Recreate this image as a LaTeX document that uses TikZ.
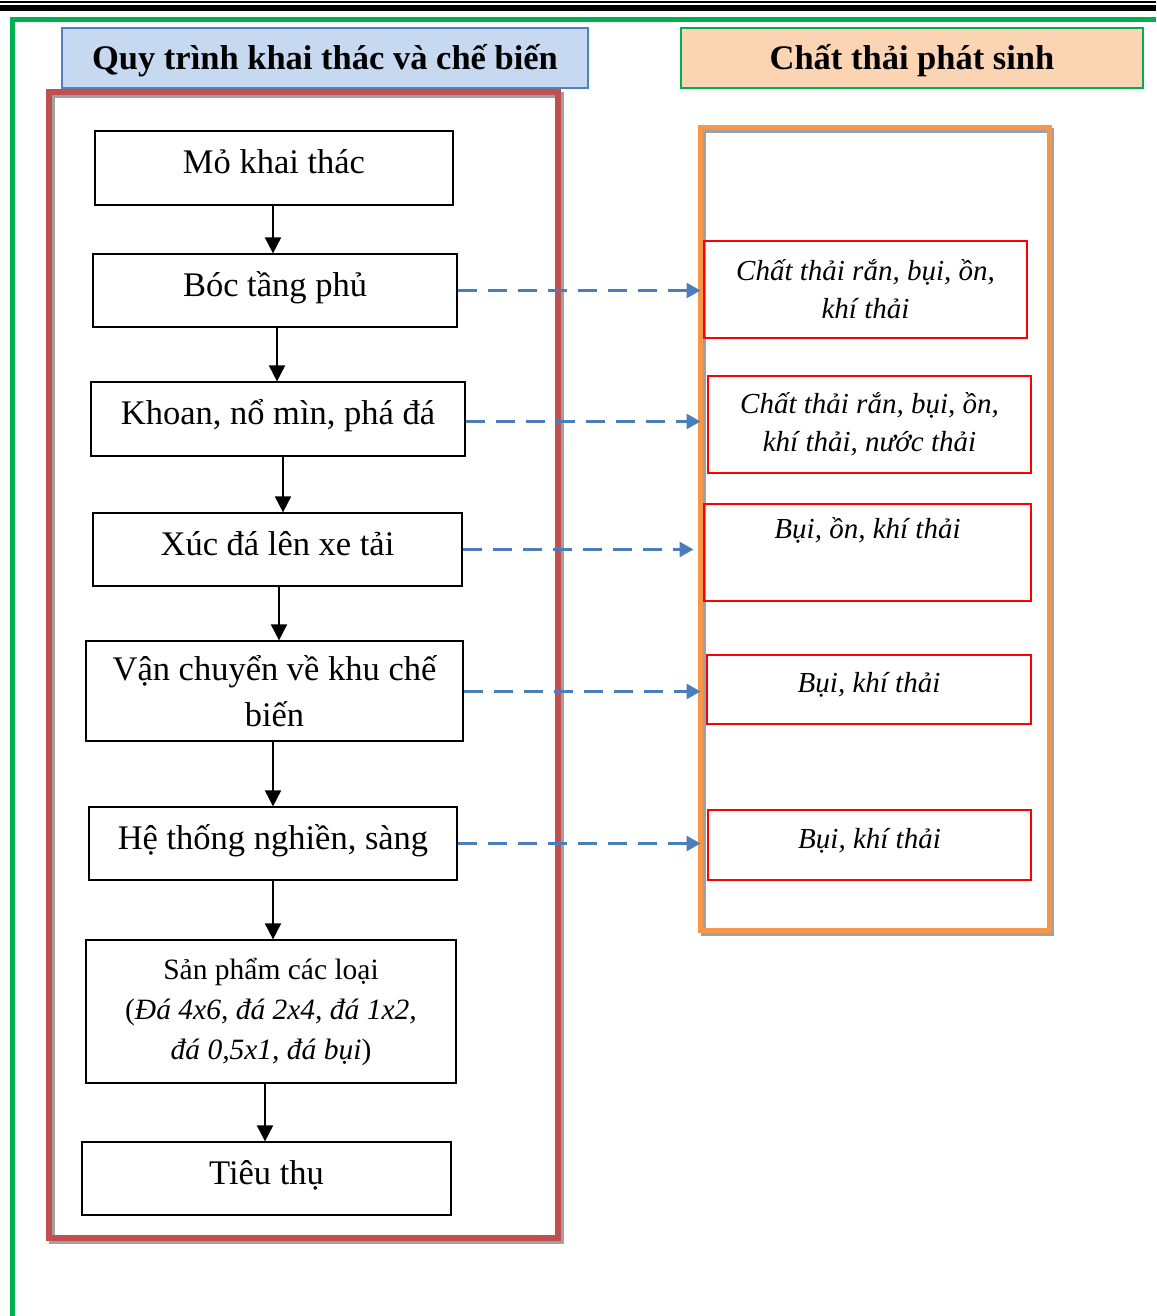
\documentclass[tikz,border=0pt]{standalone}
\usepackage{fontspec}
\setmainfont{Liberation Serif}
\usetikzlibrary{arrows.meta}
\definecolor{hdrblue}{HTML}{C6D9F1}
\definecolor{hdrblueline}{HTML}{4F81BD}
\definecolor{hdrorange}{HTML}{FBD4B4}
\definecolor{grn}{HTML}{00B050}
\definecolor{redframe}{HTML}{C0504D}
\definecolor{orframe}{HTML}{F79646}
\definecolor{dashblue}{HTML}{4A7EBB}
\definecolor{shadowgray}{HTML}{A0A0A0}
\tikzset{
  procbox/.style={draw=black, line width=1.2pt, inner sep=0pt, align=center,
    font=\fontsize{34.5}{44}\selectfont},
  oneline/.style={text height=22pt, text depth=11pt},
  wastebox/.style={draw=red, line width=1.3pt, inner sep=0pt, align=center,
    font=\itshape\fontsize{29}{38}\selectfont},
  hdrbox/.style={line width=2pt, inner sep=0pt, align=center,
    font=\bfseries\fontsize{34.5}{40}\selectfont, text height=24pt, text depth=0pt},
  flowarrow/.style={line width=1.8pt, -{Triangle[length=16pt,width=16pt]}},
  wastearrow/.style={line width=2.8pt, dashblue, dash pattern=on 19pt off 11pt,
    -{Triangle[length=14pt,width=15pt]}},
  framebox/.style={line width=6pt, inner sep=0pt, outer sep=0pt}
}
\begin{document}
\begin{tikzpicture}[x=1pt,y=-1pt]
\useasboundingbox (0,0) rectangle (1156,1316);
% top rules
\draw[line width=2.2pt, black] (0,2) -- (1156,2);
\draw[line width=6pt, black] (0,8) -- (1156,8);
% green frame
\draw[line width=5pt, grn] (12,1316) -- (12,19.5) -- (1156,19.5);
% headers
\node[hdrbox, draw=hdrblueline, fill=hdrblue, minimum width=526pt, minimum height=60pt] (h1) at (325,58) {Quy trình khai thác và chế biến};
\node[hdrbox, draw=grn, fill=hdrorange, minimum width=462pt, minimum height=60pt] (h2) at (912,58) {Chất thải phát sinh};
% red frame with shadow
\draw[line width=6pt, shadowgray] (51.5,95) rectangle (560.5,1241);
\node[framebox, draw=redframe, minimum width=509pt, minimum height=1146pt] (proccol) at (303.5,665) {};
% orange frame with shadow
\draw[line width=5pt, shadowgray] (703,131) rectangle (1051.5,933.5);
\node[framebox, line width=5pt, draw=orframe, minimum width=348.5pt, minimum height=802.5pt] (wastecol) at (874.75,529.25) {};
% process boxes
\node[procbox, oneline, minimum width=358pt, minimum height=74pt] (b1) at (274,168) {Mỏ khai thác};
\node[procbox, oneline, minimum width=364pt, minimum height=73pt] (b2) at (275,290.5) {Bóc tầng phủ};
\node[procbox, oneline, minimum width=374pt, minimum height=74pt] (b3) at (278,419) {Khoan, nổ mìn, phá đá};
\node[procbox, oneline, minimum width=369pt, minimum height=73pt] (b4) at (277.5,549.5) {Xúc đá lên xe tải};
\node[procbox, minimum width=377pt, minimum height=100pt, font=\fontsize{34.5}{46}\selectfont] (b5) at (274.5,691) {Vận chuyển về khu chế\\biến};
\node[procbox, oneline, minimum width=368pt, minimum height=73pt] (b6) at (273,843.5) {Hệ thống nghiền, sàng};
\node[procbox, minimum width=370pt, minimum height=143pt, font=\fontsize{29.5}{40}\selectfont] (b7) at (271,1011.5) {Sản phẩm các loại\\(\textit{Đá 4x6, đá 2x4, đá 1x2,}\\\textit{đá 0,5x1, đá bụi})};
\node[procbox, oneline, minimum width=369pt, minimum height=73pt] (b8) at (266.5,1178.5) {Tiêu thụ};
% waste boxes
\node[wastebox, minimum width=323pt, minimum height=97pt] (r1) at (865.5,289.5) {Chất thải rắn, bụi, ồn,\\khí thải};
\node[wastebox, minimum width=323pt, minimum height=97pt] (r2) at (869.5,424.5) {Chất thải rắn, bụi, ồn,\\khí thải, nước thải};
\node[wastebox, minimum width=327pt, minimum height=97pt] (r3) at (867.5,552.5) {Bụi, ồn, khí thải\\\strut};
\node[wastebox, text height=20pt, text depth=14pt, minimum width=324pt, minimum height=69pt] (r4) at (869,689.5) {Bụi, khí thải};
\node[wastebox, text height=20pt, text depth=14pt, minimum width=323pt, minimum height=70pt] (r5) at (869.5,845) {Bụi, khí thải};
% flow arrows
\draw[flowarrow] ([xshift=-1pt]b1.south) -- ([xshift=-2pt]b2.north);
\draw[flowarrow] ([xshift=2pt]b2.south) -- ([xshift=-1pt]b3.north);
\draw[flowarrow] ([xshift=5pt]b3.south) -- ([xshift=5.5pt]b4.north);
\draw[flowarrow] ([xshift=1.5pt]b4.south) -- ([xshift=4.5pt]b5.north);
\draw[flowarrow] ([xshift=-1.5pt]b5.south) -- (b6.north);
\draw[flowarrow] (b6.south) -- ([xshift=2pt]b7.north);
\draw[flowarrow] ([xshift=-6pt]b7.south) -- ([xshift=-1.5pt]b8.north);
% waste arrows
\draw[wastearrow] (b2.east) -- (b2.east -| wastecol.west);
\draw[wastearrow] ([yshift=-2.5pt]b3.east) -- ([yshift=-2.5pt]b3.east -| wastecol.west);
\draw[wastearrow, shorten >=7pt] (b4.east) -- (b4.east -| wastecol.west);
\draw[wastearrow] ([yshift=-0.5pt]b5.east) -- ([yshift=-0.5pt]b5.east -| wastecol.west);
\draw[wastearrow] (b6.east) -- (b6.east -| wastecol.west);
\end{tikzpicture}
\end{document}
